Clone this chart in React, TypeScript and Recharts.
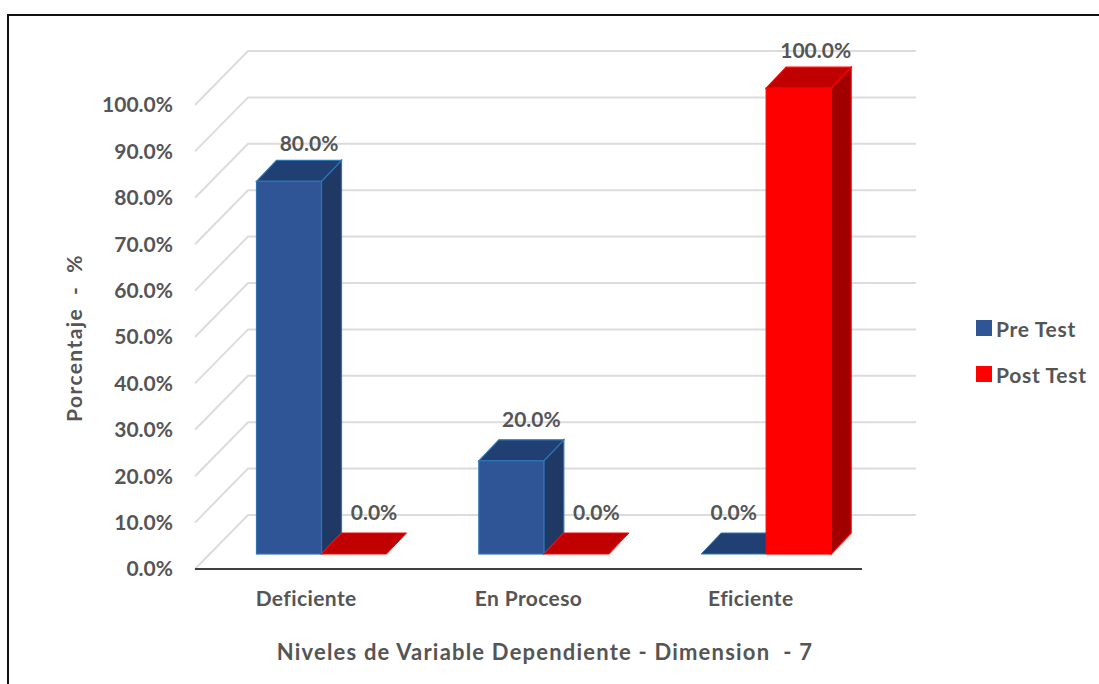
import React from "react";
import { BarChart, Bar, XAxis, YAxis, CartesianGrid, Legend, LabelList } from "recharts";

const categories = ["Deficiente", "En Proceso", "Eficiente"];
const preTest = [80, 20, 0];
const postTest = [0, 0, 100];
const yTicks = [0, 10, 20, 30, 40, 50, 60, 70, 80, 90, 100];
const xTitle = "Niveles de Variable Dependiente - Dimension  - 7";
const yTitle = "Porcentaje  -  %";

const rows = categories.map((name, i) => ({ name, pre: preTest[i], post: postTest[i] }));

const FONT = "Lato, 'Open Sans', sans-serif";
const TEXT = "#555555";
const TICK_SIZE = 21;
const WALL_DX = 53;
const WALL_DY = 54;
const BAR_DX = 15.5;
const BAR_DY = 15;
const DEPTH_X = 20;
const DEPTH_Y = 21;
const BAR_SCALE = 1.004;

const pct = (v: number) => `${v.toFixed(1)}%`;

type Palette = { front: string; top: string; side: string; edge: string };
const bluePalette: Palette = { front: "#2F5597", top: "#203F72", side: "#1F3864", edge: "#2E75B6" };
const redPalette: Palette = { front: "#FF0000", top: "#C00000", side: "#A00000", edge: "#FF0000" };

// Extruded column: the front face sits on the floor, top and side faces recede toward the wall.
const box = (palette: Palette) => (props: any) => {
  const { x, y, width, height } = props;
  const h = height * BAR_SCALE;
  const left = x + BAR_DX;
  const right = left + width;
  const bottom = y + height - BAR_DY;
  const top = bottom - h;
  const topFace = `${left},${top} ${left + DEPTH_X},${top - DEPTH_Y} ${right + DEPTH_X},${top - DEPTH_Y} ${right},${top}`;
  if (h <= 0) {
    return <polygon points={topFace} fill={palette.top} stroke={palette.edge} strokeWidth={1} />;
  }
  return (
    <g stroke={palette.edge} strokeWidth={1.2}>
      <polygon points={`${right},${top} ${right + DEPTH_X},${top - DEPTH_Y} ${right + DEPTH_X},${bottom - DEPTH_Y} ${right},${bottom}`} fill={palette.side} />
      <polygon points={topFace} fill={palette.top} />
      <rect x={left} y={top} width={width} height={h} fill={palette.front} />
    </g>
  );
};

// Value caption above a column. A flat Pre Test column hides behind its Post Test neighbour,
// so its caption stays over the front edge instead of following the depth offset.
const valueLabel = (series: "pre" | "post") => (props: any) => {
  const { x, y, width, height, value } = props;
  const v = Number(value);
  const top = y + height - BAR_DY - height * BAR_SCALE;
  const dx = series === "pre" && v === 0 ? 0 : v === 100 ? DEPTH_X - 3 : DEPTH_X;
  const lift = v >= 50 ? 36 : 39;
  return (
    <text x={x + BAR_DX + width / 2 + dx} y={top - lift} textAnchor="middle" dominantBaseline="middle"
      fontFamily={FONT} fontWeight={700} fontSize={TICK_SIZE} fill={TEXT}>
      {pct(v)}
    </text>
  );
};

// One grid level: a slanted run across the side wall, then a straight run across the back wall.
const gridLevel = (props: any) => {
  const { x1, x2, y1, key } = props;
  return (
    <path key={key} d={`M${x1},${y1} L${x1 + WALL_DX},${y1 - WALL_DY} L${x2 + WALL_DX + 1},${y1 - WALL_DY}`}
      fill="none" stroke="#DCDCDC" strokeWidth={2} />
  );
};

const legendContent = (props: any) => (
  <div style={{ fontFamily: FONT, fontWeight: 700, fontSize: TICK_SIZE, color: TEXT, letterSpacing: 0.7 }}>
    {props.payload.map((item: any) => (
      <div key={item.value} style={{ display: "flex", alignItems: "center", height: 46, whiteSpace: "nowrap" }}>
        <span style={{ width: 16, height: 16, marginRight: 4, background: item.color, display: "inline-block" }} />
        {item.value}
      </div>
    ))}
  </div>
);

export default function App() {
  return (
    <div style={{ position: "absolute", left: 0, top: 0, width: 1099, height: 684, background: "#fff", overflow: "hidden" }}>
      <div style={{ position: "absolute", left: 7, top: 14, right: 0, bottom: 0, borderTop: "2px solid #111", borderLeft: "2px solid #111" }} />
      <BarChart width={1099} height={684} data={rows} barSize={65} barGap={0}
        margin={{ top: 105, right: 114, bottom: 0, left: 0 }} style={{ position: "absolute", left: 0, top: 0 }}>
        <CartesianGrid vertical={false} horizontal={gridLevel} />
        <XAxis dataKey="name" height={115} tickLine={false} axisLine={{ stroke: "#404040", strokeWidth: 2 }} tickMargin={16}
          tick={{ fontFamily: FONT, fontWeight: 700, fontSize: TICK_SIZE, fill: TEXT, letterSpacing: 0.4 }} interval={0}
          label={{
            content: () => (
              <text x={545} y={654} textAnchor="middle" dominantBaseline="middle" fontFamily={FONT} fontWeight={700}
                fontSize={22} letterSpacing={1.2} fill={TEXT} style={{ whiteSpace: "pre" }}>{xTitle}</text>
            ),
          }} />
        <YAxis width={195} domain={[0, 100]} ticks={yTicks} interval={0} tickFormatter={pct} tickLine={false} axisLine={false}
          tickMargin={16} tick={{ fontFamily: FONT, fontWeight: 700, fontSize: TICK_SIZE, fill: TEXT }}
          label={{
            content: () => (
              <text transform="translate(77,338) rotate(-90)" textAnchor="middle" dominantBaseline="middle" fontFamily={FONT}
                fontWeight={700} fontSize={21} letterSpacing={1.4} fill={TEXT} style={{ whiteSpace: "pre" }}>{yTitle}</text>
            ),
          }} />
        <Legend layout="vertical" align="right" verticalAlign="middle" content={legendContent} itemSorter={null}
          wrapperStyle={{ position: "absolute", left: 976, top: 305, width: 123 }} />
        <Bar dataKey="pre" name="Pre Test" fill="#2F5597" shape={box(bluePalette)} isAnimationActive={false}>
          <LabelList dataKey="pre" content={valueLabel("pre")} />
        </Bar>
        <Bar dataKey="post" name="Post Test" fill="#FF0000" shape={box(redPalette)} isAnimationActive={false}>
          <LabelList dataKey="post" content={valueLabel("post")} />
        </Bar>
      </BarChart>
    </div>
  );
}
